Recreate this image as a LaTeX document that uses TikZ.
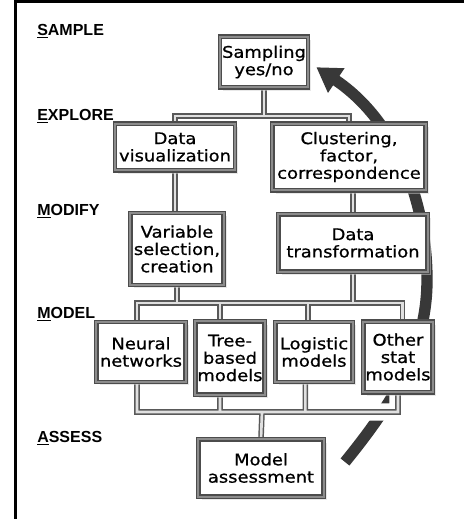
\documentclass[tikz,border=0pt]{standalone}
\usepackage{fontspec}
\setmainfont{DejaVu Sans}[FakeStretch=1.12, FakeBold=0.8]
\newfontfamily\stagefont{Liberation Sans}
\usetikzlibrary{arrows.meta, shadows, backgrounds}

\begin{document}
\begin{tikzpicture}[
    x=0.75pt, y=-0.75pt,
    every node/.style={align=center},
    box/.style={
        draw=black!70,
        double=black!45,
        double distance=1.6pt,
        line width=0.9pt,
        fill=white,
        inner sep=1pt,
        font=\fontsize{12}{13}\selectfont,
        drop shadow={shadow xshift=2.5pt, shadow yshift=-2.5pt, fill=black!18}
    },
    pipe/.style={
        draw=black!65,
        double=black!12,
        double distance=2pt,
        line width=1.1pt
    },
    halo/.style={
        preaction={draw=white, line width=13pt}
    },
    stage/.style={
        anchor=west,
        inner sep=0pt,
        font=\stagefont\bfseries\fontsize{12}{14}\selectfont
    },
    feedback/.style={
        -{Triangle[length=18pt, width=21pt]},
        line width=8.5pt,
        draw=black!78
    }
]

\useasboundingbox (0,0) rectangle (464,519);
\draw[line width=2pt] (15.3,519) |- (464,1.3);

\node[stage] (sample) at (37,31) {\underline{S}AMPLE};
\node[stage] (explore) at (37,116) {\underline{E}XPLORE};
\node[stage] (modify) at (37,211) {\underline{M}ODIFY};
\node[stage] (model) at (37,314) {\underline{M}ODEL};
\node[stage] (assess) at (37,438) {\underline{A}SSESS};

\node[box, minimum width=66pt, minimum height=38pt] (sampling) at (264,62) {Sampling\\yes/no};

\node[box, minimum width=90pt, minimum height=35pt] (dataviz) at (175,147) {Data\\visualization};

\node[box, minimum width=115pt, minimum height=50pt] (cluster) at (349,157) {Clustering,\\factor,\\correspondence};

\node[box, minimum width=70pt, minimum height=54pt] (varsel) at (177,249) {Variable\\selection,\\creation};

\node[box, minimum width=112pt, minimum height=43pt] (datatrans) at (353,243) {Data\\transformation};

\node[box, minimum width=67pt, minimum height=45pt] (neural) at (141,352) {Neural\\networks};

\node[box, minimum width=52pt, minimum height=55pt] (tree) at (230,358) {Tree-\\based\\models};

\node[box, minimum width=58pt, minimum height=45pt] (logistic) at (314,352) {Logistic\\models};

\node[box, minimum width=52pt, minimum height=53pt] (other) at (398,357) {Other\\stat\\models};

\node[box, minimum width=94pt, minimum height=43pt] (assessment) at (261,468) {Model\\assessment};

\coordinate (loopstart) at (345,462);
\coordinate (loopmid) at (427,280);
\coordinate (explorebus) at (264,116);
\coordinate (modeltop) at (265,303);
\coordinate (modelbottom) at (262,412);

\coordinate (neuralin) at ([xshift=-3pt]neural.north);
\coordinate (treein) at ([xshift=-7.5pt]tree.north);
\coordinate (logisticin) at ([xshift=-4.5pt]logistic.north);
\coordinate (otherin) at ([xshift=3.5pt]other.north);
\coordinate (neuralout) at ([xshift=-3pt]neural.south);
\coordinate (treeout) at ([xshift=-7.5pt]tree.south);
\coordinate (logisticout) at ([xshift=-6.5pt]logistic.south);
\coordinate (otherout) at (other.south);

\begin{scope}[on background layer]
\draw[feedback, shorten >=7pt] (loopstart) .. controls (392,404) and (427,350) .. (loopmid)
    .. controls (427,200) and (395,120) .. (sampling.east);

\draw[pipe] (sampling.south) -- (explorebus)
    (dataviz.north) |- (explorebus) -| (cluster.north);

\draw[pipe] (dataviz.south) -- (dataviz.south |- varsel.north);
\draw[pipe] (datatrans.north |- cluster.south) -- (datatrans.north);

\draw[pipe] (varsel.south) -- (varsel.south |- modeltop)
    (datatrans.south) -- (datatrans.south |- modeltop)
    (neuralin) |- (modeltop) -| (otherin)
    (treein) -- (treein |- modeltop)
    (logisticin) -- (logisticin |- modeltop);

\draw[pipe, halo] (neuralout) |- (modelbottom) -| (otherout)
    (treeout) -- (treeout |- modelbottom)
    (logisticout) -- (logisticout |- modelbottom)
    (modelbottom) -- (assessment.north);
\end{scope}

\end{tikzpicture}
\end{document}
